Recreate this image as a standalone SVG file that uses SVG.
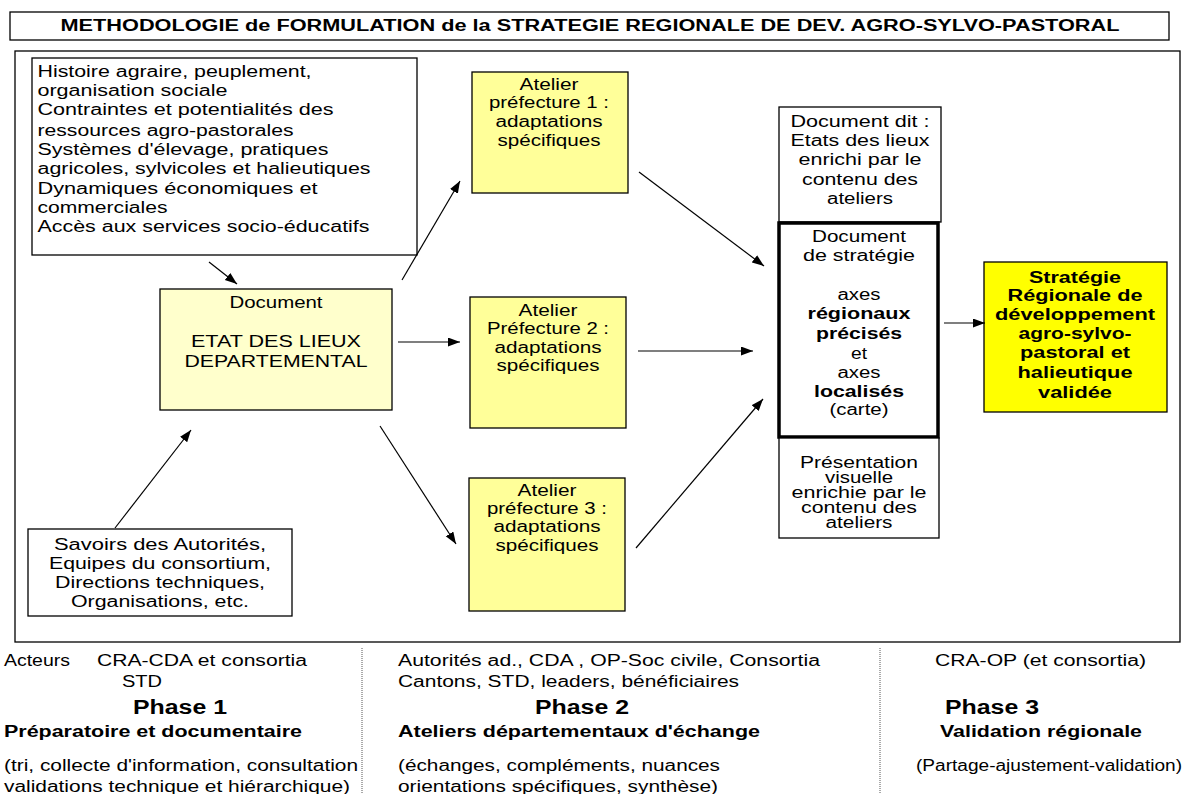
<svg xmlns="http://www.w3.org/2000/svg" width="1189" height="794" viewBox="0 0 1189 794">
<defs>
<marker id="ah" markerWidth="13" markerHeight="10" refX="12" refY="4.5" orient="auto" markerUnits="userSpaceOnUse"><path d="M0,0 L12,4.5 L0,9 z" fill="#000"/></marker>
<style>
text{font-family:"Liberation Sans",Arial,sans-serif;font-size:16px;fill:#000}
.b{font-weight:bold}
.m{text-anchor:middle}
.ph{font-size:20px;font-weight:bold;text-anchor:middle}
.box{fill:#fff;stroke:#000;stroke-width:1.3}
.y1{fill:#FFFF99;stroke:#000;stroke-width:1.3}
.y2{fill:#FFFFCC;stroke:#000;stroke-width:1.3}
.y3{fill:#FFFF00;stroke:#000;stroke-width:1.3}
.con line{stroke:#000;stroke-width:1.2;marker-end:url(#ah)}
.dot{stroke:#555;stroke-width:1;stroke-dasharray:1 1}
</style>
</defs>
<rect width="1189" height="794" fill="#fff"/>

<g id="title">
<rect class="box" x="10" y="12" width="1159" height="28"/>
<text class="b m" x="590" y="31" font-size="17" textLength="1059" lengthAdjust="spacingAndGlyphs">METHODOLOGIE de FORMULATION de la STRATEGIE REGIONALE DE DEV. AGRO-SYLVO-PASTORAL</text>
</g>

<rect id="frame" x="15" y="51" width="1165" height="591" fill="none" stroke="#000" stroke-width="1.3"/>

<g id="contexte">
<rect class="box" x="32" y="58" width="385" height="197"/>
<text x="37.5" y="77" textLength="274" lengthAdjust="spacingAndGlyphs">Histoire agraire, peuplement,</text>
<text x="37.5" y="96" textLength="190" lengthAdjust="spacingAndGlyphs">organisation sociale</text>
<text x="37.5" y="115" textLength="296" lengthAdjust="spacingAndGlyphs">Contraintes et potentialités des</text>
<text x="37.5" y="136" textLength="256" lengthAdjust="spacingAndGlyphs">ressources agro-pastorales</text>
<text x="37.5" y="155" textLength="291" lengthAdjust="spacingAndGlyphs">Systèmes d'élevage, pratiques</text>
<text x="37.5" y="174" textLength="333" lengthAdjust="spacingAndGlyphs">agricoles, sylvicoles et halieutiques</text>
<text x="37.5" y="194" textLength="280" lengthAdjust="spacingAndGlyphs">Dynamiques économiques et</text>
<text x="37.5" y="213" textLength="130" lengthAdjust="spacingAndGlyphs">commerciales</text>
<text x="37.5" y="232" textLength="332" lengthAdjust="spacingAndGlyphs">Accès aux services socio-éducatifs</text>
</g>

<g id="etat-des-lieux">
<rect class="y2" x="160" y="289" width="232" height="121"/>
<text class="m" x="276" y="308" textLength="93" lengthAdjust="spacingAndGlyphs">Document</text>
<text class="m" x="276" y="347" textLength="170" lengthAdjust="spacingAndGlyphs">ETAT DES LIEUX</text>
<text class="m" x="276" y="367" textLength="183" lengthAdjust="spacingAndGlyphs">DEPARTEMENTAL</text>
</g>

<g id="savoirs">
<rect class="box" x="28" y="529" width="264" height="87"/>
<text class="m" x="160" y="550" textLength="212" lengthAdjust="spacingAndGlyphs">Savoirs des Autorités,</text>
<text class="m" x="160" y="569" textLength="222" lengthAdjust="spacingAndGlyphs">Equipes du consortium,</text>
<text class="m" x="160" y="588" textLength="210" lengthAdjust="spacingAndGlyphs">Directions techniques,</text>
<text class="m" x="160" y="607" textLength="178" lengthAdjust="spacingAndGlyphs">Organisations, etc.</text>
</g>

<g id="atelier1">
<rect class="y1" x="472" y="72" width="156" height="121"/>
<text class="m" x="549" y="90" textLength="59" lengthAdjust="spacingAndGlyphs">Atelier</text>
<text class="m" x="549" y="108" textLength="120" lengthAdjust="spacingAndGlyphs">préfecture 1 :</text>
<text class="m" x="549" y="127" textLength="107" lengthAdjust="spacingAndGlyphs">adaptations</text>
<text class="m" x="549" y="146" textLength="103" lengthAdjust="spacingAndGlyphs">spécifiques</text>
</g>

<g id="atelier2">
<rect class="y1" x="470" y="297" width="156" height="131"/>
<text class="m" x="548" y="316" textLength="59" lengthAdjust="spacingAndGlyphs">Atelier</text>
<text class="m" x="548" y="334" textLength="122" lengthAdjust="spacingAndGlyphs">Préfecture 2 :</text>
<text class="m" x="548" y="353" textLength="107" lengthAdjust="spacingAndGlyphs">adaptations</text>
<text class="m" x="548" y="371" textLength="103" lengthAdjust="spacingAndGlyphs">spécifiques</text>
</g>

<g id="atelier3">
<rect class="y1" x="469" y="478" width="156" height="133"/>
<text class="m" x="547" y="496" textLength="59" lengthAdjust="spacingAndGlyphs">Atelier</text>
<text class="m" x="547" y="514" textLength="120" lengthAdjust="spacingAndGlyphs">préfecture 3 :</text>
<text class="m" x="547" y="532" textLength="107" lengthAdjust="spacingAndGlyphs">adaptations</text>
<text class="m" x="547" y="551" textLength="103" lengthAdjust="spacingAndGlyphs">spécifiques</text>
</g>

<g id="document-dit">
<rect class="box" x="779" y="107" width="162" height="115"/>
<text class="m" x="860" y="127" textLength="139" lengthAdjust="spacingAndGlyphs">Document dit :</text>
<text class="m" x="860" y="146" textLength="139" lengthAdjust="spacingAndGlyphs">Etats des lieux</text>
<text class="m" x="860" y="165" textLength="123" lengthAdjust="spacingAndGlyphs">enrichi par le</text>
<text class="m" x="860" y="185" textLength="116" lengthAdjust="spacingAndGlyphs">contenu des</text>
<text class="m" x="860" y="204" textLength="66" lengthAdjust="spacingAndGlyphs">ateliers</text>
</g>

<g id="document-strategie">
<rect x="779" y="223" width="159" height="214" fill="#fff" stroke="#000" stroke-width="3.5"/>
<text class="m" x="859" y="242" textLength="94" lengthAdjust="spacingAndGlyphs">Document</text>
<text class="m" x="859" y="261" textLength="112" lengthAdjust="spacingAndGlyphs">de stratégie</text>
<text class="m" x="859" y="300" textLength="43" lengthAdjust="spacingAndGlyphs">axes</text>
<text class="m b" x="859" y="319" font-size="17" textLength="103" lengthAdjust="spacingAndGlyphs">régionaux</text>
<text class="m b" x="859" y="339" font-size="17" textLength="86" lengthAdjust="spacingAndGlyphs">précisés</text>
<text class="m" x="859" y="359" textLength="16" lengthAdjust="spacingAndGlyphs">et</text>
<text class="m" x="859" y="378" textLength="43" lengthAdjust="spacingAndGlyphs">axes</text>
<text class="m b" x="859" y="397" font-size="17" textLength="90" lengthAdjust="spacingAndGlyphs">localisés</text>
<text class="m" x="859" y="415" textLength="59" lengthAdjust="spacingAndGlyphs">(carte)</text>
</g>

<g id="presentation">
<rect class="box" x="779" y="438" width="160" height="100"/>
<text class="m" x="859" y="468" textLength="118" lengthAdjust="spacingAndGlyphs">Présentation</text>
<text class="m" x="859" y="483" textLength="68" lengthAdjust="spacingAndGlyphs">visuelle</text>
<text class="m" x="859" y="498" textLength="135" lengthAdjust="spacingAndGlyphs">enrichie par le</text>
<text class="m" x="859" y="513" textLength="116" lengthAdjust="spacingAndGlyphs">contenu des</text>
<text class="m" x="859" y="528" textLength="67" lengthAdjust="spacingAndGlyphs">ateliers</text>
</g>

<g id="strategie-regionale">
<rect class="y3" x="984" y="262" width="183" height="150"/>
<text class="m b" x="1075" y="283" font-size="17" textLength="92" lengthAdjust="spacingAndGlyphs">Stratégie</text>
<text class="m b" x="1075" y="301" font-size="17" textLength="135" lengthAdjust="spacingAndGlyphs">Régionale de</text>
<text class="m b" x="1075" y="320" font-size="17" textLength="160" lengthAdjust="spacingAndGlyphs">développement</text>
<text class="m b" x="1075" y="339" font-size="17" textLength="113" lengthAdjust="spacingAndGlyphs">agro-sylvo-</text>
<text class="m b" x="1075" y="358" font-size="17" textLength="110" lengthAdjust="spacingAndGlyphs">pastoral et</text>
<text class="m b" x="1075" y="378" font-size="17" textLength="115" lengthAdjust="spacingAndGlyphs">halieutique</text>
<text class="m b" x="1075" y="398" font-size="17" textLength="74" lengthAdjust="spacingAndGlyphs">validée</text>
</g>

<g id="connectors" class="con">
<line x1="209" y1="262" x2="237" y2="284"/>
<line x1="402" y1="280" x2="460" y2="181"/>
<line x1="398" y1="342" x2="460" y2="342"/>
<line x1="380" y1="426" x2="456" y2="544"/>
<line x1="115" y1="528" x2="191" y2="430"/>
<line x1="639" y1="172" x2="764" y2="266"/>
<line x1="638" y1="351" x2="753" y2="351"/>
<line x1="636" y1="548" x2="763" y2="399"/>
<line x1="944" y1="323" x2="985" y2="323"/>
</g>

<g id="phase1">
<text x="4" y="666" textLength="66" lengthAdjust="spacingAndGlyphs">Acteurs</text>
<text x="97" y="666" textLength="210" lengthAdjust="spacingAndGlyphs">CRA-CDA et consortia</text>
<text class="m" x="142" y="687" textLength="40" lengthAdjust="spacingAndGlyphs">STD</text>
<text class="ph" x="180" y="714" textLength="94" lengthAdjust="spacingAndGlyphs">Phase 1</text>
<text class="b" x="4" y="737" textLength="298" lengthAdjust="spacingAndGlyphs">Préparatoire et documentaire</text>
<text x="4" y="771" textLength="354" lengthAdjust="spacingAndGlyphs">(tri, collecte d'information, consultation</text>
<text x="4" y="792" textLength="346" lengthAdjust="spacingAndGlyphs">validations technique et hiérarchique)</text>
</g>
<line class="dot" x1="362" y1="648" x2="362" y2="794"/>
<g id="phase2">
<text x="398" y="666" textLength="422" lengthAdjust="spacingAndGlyphs">Autorités ad., CDA , OP-Soc civile, Consortia</text>
<text x="398" y="687" textLength="341" lengthAdjust="spacingAndGlyphs">Cantons, STD, leaders, bénéficiaires</text>
<text class="ph" x="582" y="714" textLength="94" lengthAdjust="spacingAndGlyphs">Phase 2</text>
<text class="b" x="398" y="737" textLength="362" lengthAdjust="spacingAndGlyphs">Ateliers départementaux d'échange</text>
<text x="398" y="771" textLength="322" lengthAdjust="spacingAndGlyphs">(échanges, compléments, nuances</text>
<text x="398" y="792" textLength="320" lengthAdjust="spacingAndGlyphs">orientations spécifiques, synthèse)</text>
</g>
<line class="dot" x1="880" y1="648" x2="880" y2="794"/>
<g id="phase3">
<text x="935" y="666" textLength="211" lengthAdjust="spacingAndGlyphs">CRA-OP (et consortia)</text>
<text class="ph" x="992" y="714" textLength="94" lengthAdjust="spacingAndGlyphs">Phase 3</text>
<text class="b" x="940" y="737" textLength="202" lengthAdjust="spacingAndGlyphs">Validation régionale</text>
<text x="916" y="771" textLength="266" lengthAdjust="spacingAndGlyphs">(Partage-ajustement-validation)</text>
</g>
</svg>
